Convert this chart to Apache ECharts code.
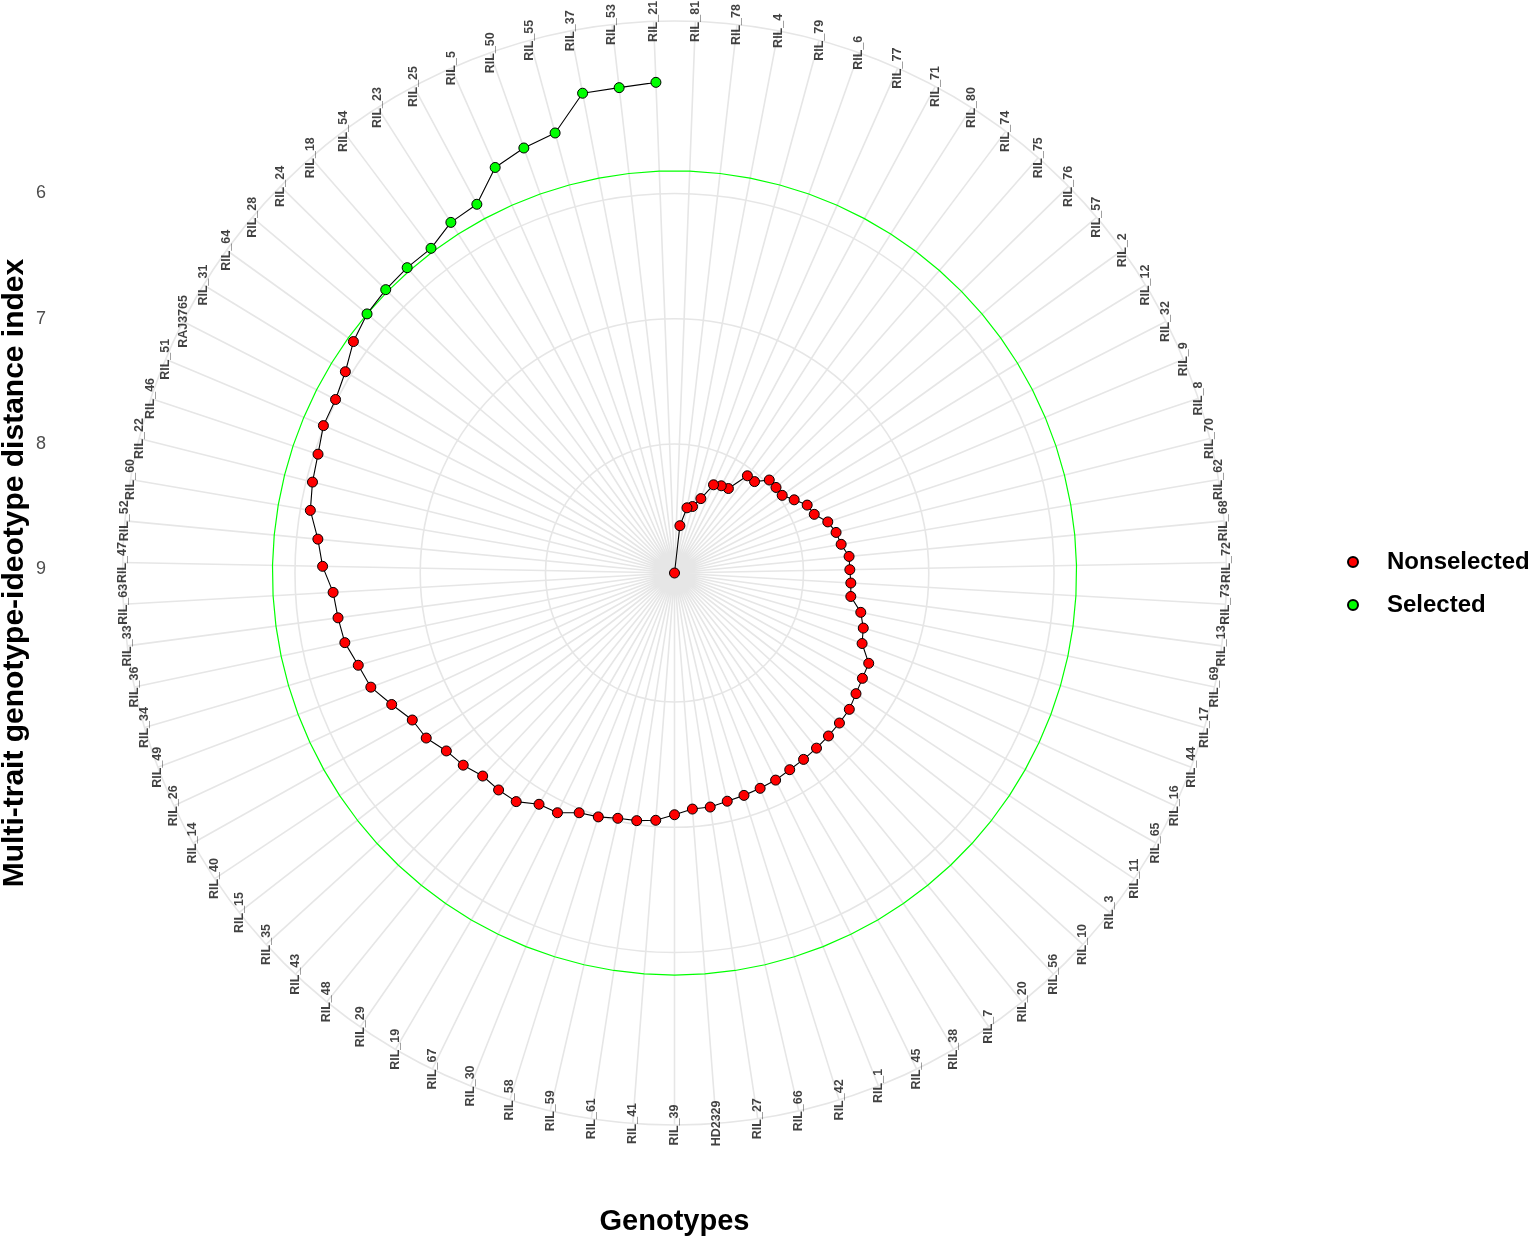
<!DOCTYPE html>
<html><head><meta charset="utf-8">
<script src="https://cdn.jsdelivr.net/npm/echarts@6/dist/echarts.min.js"></script>
<style>html,body{margin:0;padding:0;background:#fff}#c{width:1535px;height:1240px}</style>
</head><body><div id="c"></div>
<script>
const genotypes = ['RIL_21','RIL_53','RIL_37','RIL_55','RIL_50','RIL_5','RIL_25','RIL_23','RIL_54','RIL_18','RIL_24','RIL_28','RIL_64','RIL_31','RAJ3765','RIL_51','RIL_46','RIL_22','RIL_60','RIL_52','RIL_47','RIL_63','RIL_33','RIL_36','RIL_34','RIL_49','RIL_26','RIL_14','RIL_40','RIL_15','RIL_35','RIL_43','RIL_48','RIL_29','RIL_19','RIL_67','RIL_30','RIL_58','RIL_59','RIL_61','RIL_41','RIL_39','HD2329','RIL_27','RIL_66','RIL_42','RIL_1','RIL_45','RIL_38','RIL_7','RIL_20','RIL_56','RIL_10','RIL_3','RIL_11','RIL_65','RIL_16','RIL_44','RIL_17','RIL_69','RIL_13','RIL_73','RIL_72','RIL_68','RIL_62','RIL_70','RIL_8','RIL_9','RIL_32','RIL_12','RIL_2','RIL_57','RIL_76','RIL_75','RIL_74','RIL_80','RIL_71','RIL_77','RIL_6','RIL_79','RIL_4','RIL_78','RIL_81'];
const mgidi = [5.11,5.13,5.13,5.39,5.43,5.49,5.69,5.71,5.79,5.79,
  5.80,5.82,5.87,5.95,5.99,5.99,6.03,6.05,6.08,6.17,
  6.22,6.30,6.32,6.34,6.40,6.44,6.54,6.63,6.65,6.72,
  6.75,6.80,6.80,6.81,6.89,6.90,6.97,6.99,7.02,7.03,
  7.05,7.10,7.14,7.14,7.16,7.17,7.18,7.19,7.21,7.22,
  7.23,7.24,7.25,7.26,7.29,7.31,7.32,7.43,7.46,7.51,
  7.61,7.62,7.63,7.63,7.68,7.70,7.74,7.82,7.84,7.91,
  7.97,7.97,7.97,8.06,8.06,8.23,8.24,8.26,8.40,8.48,
  8.50,8.65,9.03];
const selectedGenotypes = ['RIL_21','RIL_53','RIL_37','RIL_55','RIL_50','RIL_5','RIL_25','RIL_23','RIL_54','RIL_18','RIL_24','RIL_28'];
const radiusTicks = [6, 7, 8, 9];
const legendNames = ['Nonselected', 'Selected'];

const FONT = '"Liberation Sans", Arial, sans-serif';
const n = genotypes.length;
const vMin = Math.min(...mgidi), vMax = Math.max(...mgidi);
const isSel = g => selectedGenotypes.includes(g);
const cutpoint = Math.max(...mgidi.filter((v, i) => isSel(genotypes[i])));
const CX = 674.5, CY = 573, R = 491, R_OUT = 552;
const start = 90 + 180 / n;
const gridColor = '#E6E6E6';

const pathData = mgidi.map((v, i) => [v, i]);
const selData = [], nonData = [];
mgidi.forEach((v, i) => { (isSel(genotypes[i]) ? selData : nonData).push([v, i]); });
const circleData = [];
for (let i = 0; i <= n; i++) circleData.push([cutpoint, i]);
const labelData = genotypes.map((g, i) => ({ value: [1, i], name: g }));

const chart = echarts.init(document.getElementById('c'), null, { renderer: 'canvas' });
const hidden = { axisLine: { show: false }, axisTick: { show: false }, axisLabel: { show: false }, splitLine: { show: false } };

chart.setOption({
  animation: false,
  backgroundColor: '#fff',
  polar: [{ center: [CX, CY], radius: R }, { center: [CX, CY], radius: R_OUT }],
  angleAxis: [
    Object.assign({ polarIndex: 0, type: 'value', min: 0, max: n, interval: 1, startAngle: start, clockwise: false }, hidden),
    { polarIndex: 1, type: 'value', min: 0, max: n, interval: 1, startAngle: start, clockwise: false,
      axisLine: { show: true, lineStyle: { color: gridColor, width: 1.6 } },
      axisTick: { show: false }, axisLabel: { show: false },
      splitLine: { show: true, lineStyle: { color: gridColor, width: 1.6 } } }
  ],
  radiusAxis: [
    { polarIndex: 0, type: 'value', min: vMin, max: vMax, inverse: true,
      axisLine: { show: false },
      axisTick: { show: false, customValues: radiusTicks },
      axisLabel: { show: false, customValues: radiusTicks },
      splitLine: { show: true, lineStyle: { color: gridColor, width: 1.6 } } },
    Object.assign({ polarIndex: 1, type: 'value', min: 0, max: 1 }, hidden)
  ],
  grid: [{ left: 50, top: CY - R, width: 2 * (CX - 50), height: 2 * R, outerBoundsMode: 'none', containLabel: false }],
  xAxis: [{ gridIndex: 0, type: 'value', min: 0, max: 1,
    axisLine: { show: false }, axisTick: { show: false }, axisLabel: { show: false }, splitLine: { show: false },
    name: 'Genotypes', nameLocation: 'middle', nameGap: 143, nameMoveOverlap: false,
    nameTextStyle: { fontSize: 29, fontWeight: 'bold', color: '#000', fontFamily: FONT } }],
  yAxis: [{ gridIndex: 0, type: 'value', min: vMin, max: 2 * vMax - vMin, inverse: true,
    axisLine: { show: false }, axisTick: { show: false }, splitLine: { show: false },
    axisLabel: { customValues: radiusTicks, fontSize: 18, color: '#4D4D4D', margin: 4, fontFamily: FONT },
    name: 'Multi-trait genotype-ideotype distance index', nameLocation: 'middle', nameGap: 20, nameMoveOverlap: false,
    nameTextStyle: { fontSize: 30, fontWeight: 'bold', color: '#000', fontFamily: FONT } }],
  legend: {
    data: legendNames, orient: 'vertical', left: 1342, top: 545,
    itemWidth: 10, itemHeight: 10, itemGap: 19, icon: 'circle',
    textStyle: { fontSize: 24, fontWeight: 'bold', color: '#000', fontFamily: FONT, padding: [0, 0, 0, 24] }
  },
  series: [
    { type: 'line', coordinateSystem: 'polar', polarIndex: 0, data: circleData, symbol: 'none', silent: true,
      clip: false, lineStyle: { color: '#00FF00', width: 1.2 }, z: 1 },
    { type: 'line', coordinateSystem: 'polar', polarIndex: 0, data: pathData, symbol: 'none', silent: true,
      clip: false, lineStyle: { color: '#000', width: 1.1 }, z: 2 },
    { name: legendNames[0], type: 'scatter', coordinateSystem: 'polar', polarIndex: 0, data: nonData, symbolSize: 10,
      clip: false, itemStyle: { color: '#FF0000', borderColor: '#000', borderWidth: 1, opacity: 1 }, z: 3 },
    { name: legendNames[1], type: 'scatter', coordinateSystem: 'polar', polarIndex: 0, data: selData, symbolSize: 10,
      clip: false, itemStyle: { color: '#00FF00', borderColor: '#000', borderWidth: 1, opacity: 1 }, z: 3 },
    { type: 'scatter', coordinateSystem: 'polar', polarIndex: 1, data: labelData, symbolSize: 0, silent: true,
      clip: false, z: 4,
      label: { show: true, position: 'inside', formatter: '{b}', rotate: 90, align: 'center', verticalAlign: 'middle',
        fontSize: 12.5, fontWeight: 'bold', color: '#111', fontFamily: FONT } }
  ]
});
</script>
</body></html>
